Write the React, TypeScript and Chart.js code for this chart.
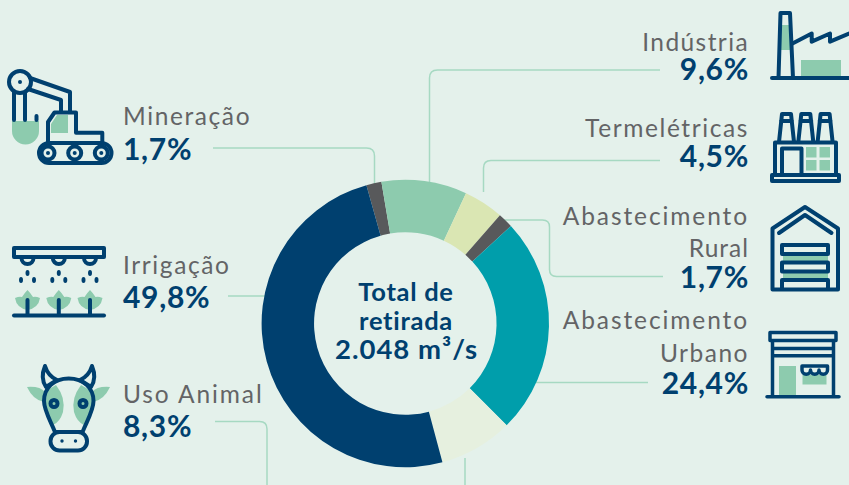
import React, { useEffect, useRef } from "react";
import { Chart, registerables } from "chart.js";

Chart.register(...registerables);

const categories = ["Mineração", "Indústria", "Termelétricas", "Abastecimento Rural", "Abastecimento Urbano", "Uso Animal", "Irrigação"];
const values = [1.7, 9.6, 4.5, 1.7, 24.4, 8.3, 49.8];
const sliceColors = ["#58595B", "#8DCBAE", "#DAE6B3", "#58595B", "#009EAB", "#E6F0DF", "#00406F"];
const centerLines = ["Total de", "retirada"];
const totalValue = "2.048";

const BG = "#E4F1EB";
const NAVY = "#00406F";
const GREEN = "#8DCBAE";
const GREY = "#636466";
const LINE = "#A6D9C2";
const LABEL_FONT = "Lato, sans-serif";

const pct = (v: number) => v.toFixed(1).replace(".", ",") + "%";

// label layout, by index in categories: [text, baseline, letter spacing]
const labelLayout = [
  { x: 123, anchor: "start", lines: [["Mineração", 125, 1.6]], vy: 160 },
  { x: 749, anchor: "end", lines: [["Indústria", 51, 1.4]], vy: 79.5 },
  { x: 749, anchor: "end", lines: [["Termelétricas", 137, 1.6]], vy: 167 },
  { x: 749, anchor: "end", lines: [["Abastecimento", 225, 1.9], ["Rural", 257, 1]], vy: 287.5 },
  { x: 749, anchor: "end", lines: [["Abastecimento", 328.5, 1.9], ["Urbano", 362, 1.5]], vy: 393.5 },
  { x: 123, anchor: "start", lines: [["Uso Animal", 403, 1.9]], vy: 437 },
  { x: 123, anchor: "start", lines: [["Irrigação", 274, 1.6]], vy: 308 },
] as const;

const leaders = [
  "M213 148H366.5Q374.5 148 374.5 156V184",
  "M660 70H437.5Q429.5 70 429.5 78V184",
  "M660 160.5H491Q483.5 160.5 483.5 168V192",
  "M503 220H542.5Q549.5 220 549.5 227V269.5Q549.5 276.5 556.5 276.5H663",
  "M536 382.5H648",
  "M228 296H265",
  "M215 421.5H259.5Q267 421.5 267 429V485",
  "M465 458V485",
];

function Icons() {
  const s = { fill: "none", stroke: NAVY, strokeWidth: 4, strokeLinejoin: "round", strokeLinecap: "round" } as const;
  return (
    <g>
      {/* excavator */}
      <path d="M12 121H39V131A13.5 13.5 0 0 1 12 131Z" fill={GREEN} />
      <path d="M51 133V124L57 115H68V133Z" fill={GREEN} />
      <g {...s}>
        <circle cx={20} cy={82} r={11} />
        <path d="M30 78L70 92V112M28 89L61 100V112M14 92V120M25 93V120M36.500 116V120" />
        <path d="M48 142V122L54.500 112.500H76V132.700H102.300V142" />
        <rect x={39} y={143} width={72.500} height={20} rx={10} />
        <circle cx={48} cy={153} r={6.500} />
        <circle cx={74.700} cy={153} r={6.500} />
        <circle cx={101.300} cy={153} r={6.500} />
      </g>
      <g fill={NAVY}>
        <circle cx={20} cy={82} r={2} />
        <circle cx={48} cy={153} r={2} />
        <circle cx={74.700} cy={153} r={2} />
        <circle cx={101.300} cy={153} r={2} />
      </g>
      {/* irrigation */}
      {[27.500, 58.800, 90].map((x) => (
        <g key={x}>
          <path d={`M${x - 12.500} 298Q${x - 8} 296 ${x - 5.500} 297Q${x - 3} 293 ${x} 290Q${x + 3} 293 ${x + 5.500} 297Q${x + 8} 296 ${x + 12.500} 298Q${x + 11} 308 ${x} 310Q${x - 11} 308 ${x - 12.500} 298Z`} fill={GREEN} />
          <path d={`M${x} 300V314`} {...s} />
          <path d={`M${x - 6} 258A6 6 0 0 0 ${x + 6} 258`} {...s} />
          <g fill={NAVY}>
            <ellipse cx={x} cy={273} rx={2} ry={3} />
            <ellipse cx={x - 6.500} cy={280} rx={2} ry={3} />
            <ellipse cx={x + 6.500} cy={280} rx={2} ry={3} />
          </g>
        </g>
      ))}
      <g {...s}>
        <rect x={14} y={248} width={90} height={9} />
        <path d="M14 315.500H104" />
      </g>
      {/* cow */}
      <g fill={GREEN}>
        <path d="M27 387Q40 386 45 392L44 402Q33 400 27 387Z" />
        <path d="M110 387Q97 386 92 392L93 402Q104 400 110 387Z" />
        <path d="M56 385Q66 398 63 412Q60 422 53 425L44 404V392Z" />
        <path d="M81 385Q71 398 74 412Q77 422 84 425L93 404V392Z" />
      </g>
      <g {...s}>
        <path d="M68.700 378.500C54 378.500 44 388 44 401C44 410 50 420 55 432H82.500C87.500 420 93.500 410 93.500 401C93.500 388 83.500 378.500 68.700 378.500Z" />
        <rect x={50.500} y={432} width={36.500} height={18.500} rx={9} />
        <path d="M45 366Q40 378 46 387L57 380Q48 376 45 366Z" />
        <path d="M92 366Q97 378 91 387L80 380Q89 376 92 366Z" />
        <circle cx={54} cy={403.500} r={3.500} />
        <circle cx={83} cy={403.500} r={3.500} />
      </g>
      <g fill={NAVY}>
        <circle cx={62} cy={441} r={1.700} />
        <circle cx={75.500} cy={441} r={1.700} />
      </g>
      {/* factory */}
      <path d="M781 25H790V50H781Z" fill={GREEN} />
      <rect x={801} y={60} width={40} height={17} fill={GREEN} />
      <g {...s}>
        <path d="M778.500 78L780.500 13H790L793 78" />
        <path d="M792.500 43.500L811.700 33.500V41.700L830 33.500V41.700L849 33.500" />
        <path d="M772 78H849" />
      </g>
      {/* thermal */}
      <g fill={GREEN}>
        <rect x={806} y={147} width={10.500} height={10.500} />
        <rect x={819.500} y={147} width={10.500} height={10.500} />
        <rect x={806} y={160} width={10.500} height={10.500} />
        <rect x={819.500} y={160} width={10.500} height={10.500} />
      </g>
      <g {...s}>
        <rect x={772} y={175} width={67} height={6} />
        <rect x={775} y={142.500} width={61} height={32.500} />
        <rect x={782} y={148.500} width={19.500} height={26.500} />
        {[0, 19.300, 38.600].map((d) => (
          <path key={d} d={`M${779 + d} 142L${782 + d} 114H${791 + d}L${794 + d} 142M${781 + d} 121H${792 + d}`} />
        ))}
      </g>
      {/* rural */}
      <rect x={783} y={255} width={45} height={7} fill={GREEN} />
      <rect x={783} y={272} width={45} height={7} fill={GREEN} />
      <g {...s}>
        <path d="M772.500 289.500V228.500L805 207L838 228.500V289.500Z" />
        <path d="M779 233L805 215L831.500 233" />
        <rect x={782} y={245} width={46} height={9} />
        <rect x={782} y={262.500} width={46} height={9} />
        <path d="M782 289V280H828V289" />
      </g>
      {/* urban */}
      <rect x={779} y={366} width={17} height={29} fill={GREEN} />
      <rect x={802.500} y={375} width={24} height={9.500} fill={GREEN} />
      <g {...s} strokeWidth={3.500}>
        <rect x={770} y={332.500} width={66} height={8} />
        <path d="M772.500 341V396M833.500 341V396M772.500 348.500H833.500M772.500 355.800H833.500" />
        <path d="M767 396.700H839" />
        <path d="M802 366H827.500V370A4.250 4.250 0 0 1 819 370A4.250 4.250 0 0 1 810.500 370A4.250 4.250 0 0 1 802 370Z" />
      </g>
    </g>
  );
}

export default function App() {
  const ref = useRef<HTMLCanvasElement>(null);

  useEffect(() => {
    document.body.style.margin = "0";
    document.body.style.background = BG;
    const chart = new Chart(ref.current!, {
      type: "doughnut",
      data: {
        labels: categories,
        datasets: [{ data: values, backgroundColor: sliceColors, borderWidth: 0 }],
      },
      options: {
        responsive: false,
        animation: false,
        rotation: -15.7,
        cutout: "63.5%",
        layout: { padding: { top: 179.8, bottom: 17.8, left: 261.6, right: 300 } },
        plugins: { legend: { display: false }, tooltip: { enabled: false } },
      },
    });
    return () => chart.destroy();
  }, []);

  return (
    <div style={{ position: "absolute", left: 0, top: 0, width: 849, height: 485, background: BG, overflow: "hidden" }}>
      <svg width={849} height={485} style={{ position: "absolute", left: 0, top: 0 }}>
        <g fill="none" stroke={LINE} strokeWidth={1.500}>
          {leaders.map((d) => (
            <path key={d} d={d} />
          ))}
        </g>
        <Icons />
        {labelLayout.map((l, i) => (
          <g key={categories[i]} textAnchor={l.anchor} fontFamily={LABEL_FONT}>
            {l.lines.map(([t, y, sp]) => (
              <text key={t} x={l.x} y={y} fontSize={24.500} fill={GREY} letterSpacing={sp}>
                {t}
              </text>
            ))}
            <text x={l.x} y={l.vy} fontSize={30} fontWeight={700} fill={NAVY} letterSpacing={0.700}>
              {pct(values[i])}
            </text>
          </g>
        ))}
        <g textAnchor="middle" fontFamily={LABEL_FONT} fontWeight={700} fontSize={25.500} fill={NAVY}>
          <text x={406} y={301} letterSpacing={0.700}>{centerLines[0]}</text>
          <text x={406} y={329.500} letterSpacing={0.700}>{centerLines[1]}</text>
          <text x={406.500} y={358.500} fontSize={27.500} letterSpacing={1}>{totalValue + " m³/s"}</text>
        </g>
      </svg>
      <canvas ref={ref} width={849} height={485} style={{ position: "absolute", left: 0, top: 0, width: 849, height: 485 }} />
    </div>
  );
}
